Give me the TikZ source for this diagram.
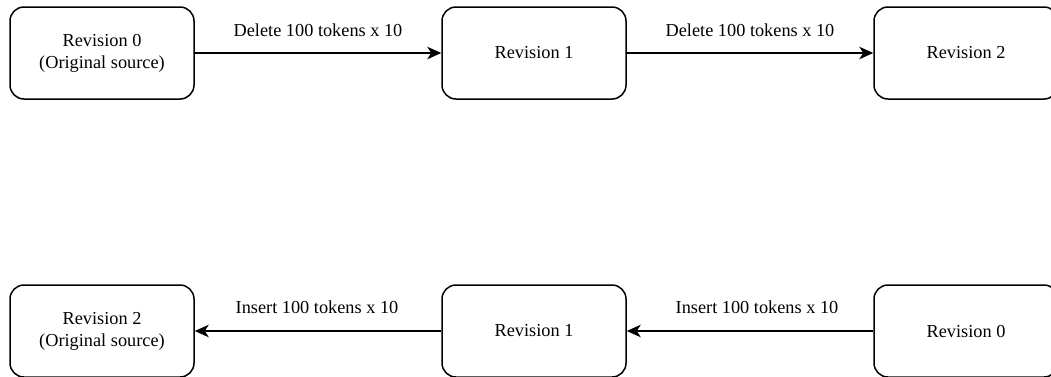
\documentclass[tikz,border=0pt]{standalone}
\usepackage{fontspec}
\setmainfont{Liberation Serif}
\usetikzlibrary{arrows.meta}
\begin{document}
\begin{tikzpicture}[x=1pt,y=-1pt,
  revbox/.style={draw=black, line width=1.5pt, rounded corners=14pt, fill=white,
    minimum width=184pt, minimum height=92pt, align=center, inner sep=0pt,
    font=\fontsize{18.3}{22}\selectfont},
  flow/.style={draw=black, line width=1.5pt,
    -{Stealth[length=14pt, width=12.5pt, inset=4pt]}},
  lbl/.style={font=\fontsize{18.3}{22}\selectfont, inner sep=0pt}]
  \useasboundingbox (0,0) rectangle (1051,376);
  \clip (0,0) rectangle (1051,376);
  % deletion chain
  \node[revbox] (d0) at (102,53) {Revision 0\\(Original source)};
  \node[revbox] (d1) at (534,53) {Revision 1};
  \node[revbox] (d2) at (966,53) {Revision 2};
  \draw[flow] (d0.east) -- (d1.west);
  \draw[flow] (d1.east) -- (d2.west);
  \node[lbl] (ld1) at (318,30) {Delete 100 tokens x 10};
  \node[lbl] (ld2) at (750,30) {Delete 100 tokens x 10};
  % insertion chain
  \node[revbox] (i2) at (102,331) {Revision 2\\(Original source)};
  \node[revbox] (i1) at (534,331) {Revision 1};
  \node[revbox] (i0) at (966,331) {Revision 0};
  \draw[flow] (i0.west) -- (i1.east);
  \draw[flow] (i1.west) -- (i2.east);
  \node[lbl] (li1) at (317,307) {Insert 100 tokens x 10};
  \node[lbl] (li0) at (757,307) {Insert 100 tokens x 10};
\end{tikzpicture}
\end{document}
